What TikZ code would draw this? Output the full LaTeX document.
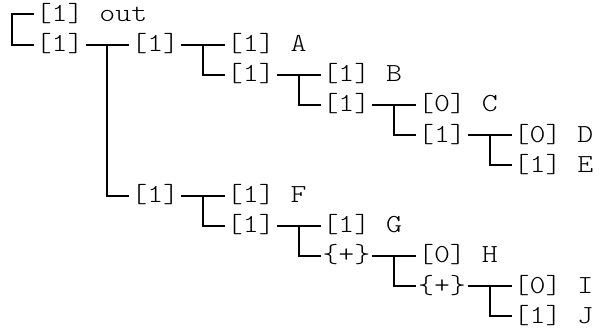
\documentclass[tikz,border=0pt]{standalone}
\usepackage{graphicx}
\usepackage{tikz}

% light monospaced cell text, widened to a 15.93pt character pitch
\newcommand\cellfont{\ttfamily\fontseries{l}\fontsize{26}{30}\selectfont}
\newcommand\mono[1]{\scalebox{1.167}[1]{#1}}

\tikzset{
  lbl/.style={anchor=west, inner sep=0pt, outer sep=0pt,
    text height=17pt, text depth=3.4pt, font=\cellfont, text=black},
  wire/.style={draw=black, line width=2pt},
  gap/.style={shorten <=2pt, shorten >=2pt}
}

\begin{document}
\begin{tikzpicture}[x=1pt, y=-1pt]
\useasboundingbox (0,0) rectangle (600,328);

% row r sits at y = 14.5 + 30.2 r, column k starts at x = 3.9 + 15.93 k
\node[lbl] (tout)  at (35.76,14.5)  {\mono{[1] out}};
\node[lbl] (t)     at (35.76,44.7)  {\mono{[1]}};
\node[lbl] (t1)    at (131.34,44.7) {\mono{[1]}};
\node[lbl] (tA)    at (226.92,44.7) {\mono{[1] A}};
\node[lbl] (t11)   at (226.92,74.9) {\mono{[1]}};
\node[lbl] (tB)    at (322.5,74.9)  {\mono{[1] B}};
\node[lbl] (t111)  at (322.5,105.1) {\mono{[1]}};
\node[lbl] (tC)    at (418.08,105.1){\mono{[0] C}};
\node[lbl] (t1111) at (418.08,135.3){\mono{[1]}};
\node[lbl] (tD)    at (513.66,135.3){\mono{[0] D}};
\node[lbl] (tE)    at (513.66,165.5){\mono{[1] E}};
\node[lbl] (t2)    at (131.34,195.7){\mono{[1]}};
\node[lbl] (tF)    at (226.92,195.7){\mono{[1] F}};
\node[lbl] (t21)   at (226.92,225.9){\mono{[1]}};
\node[lbl] (tG)    at (322.5,225.9) {\mono{[1] G}};
\node[lbl] (t211)  at (322.5,256.1) {\mono{\{+\}}};
\node[lbl] (tH)    at (418.08,256.1){\mono{[0] H}};
\node[lbl] (t2111) at (418.08,286.3){\mono{\{+\}}};
\node[lbl] (tI)    at (513.66,286.3){\mono{[0] I}};
\node[lbl] (tJ)    at (513.66,316.5){\mono{[1] J}};

% root bracket
\draw[wire, gap] (tout.west) -| ([xshift=-23.9pt]t.west) -- (t.west);

% each parent: straight line to its first child, elbow down to the second
\foreach \p/\a/\b in {t/t1/t2, t1/tA/t11, t11/tB/t111, t111/tC/t1111,
                      t1111/tD/tE, t2/tF/t21, t21/tG/t211, t211/tH/t2111,
                      t2111/tI/tJ}{
  \draw[wire, gap] (\p.east) -- (\a.west);
  \draw[wire, shorten >=2pt] ([xshift=23.9pt]\p.east) |- (\b.west);
}
\end{tikzpicture}
\end{document}
